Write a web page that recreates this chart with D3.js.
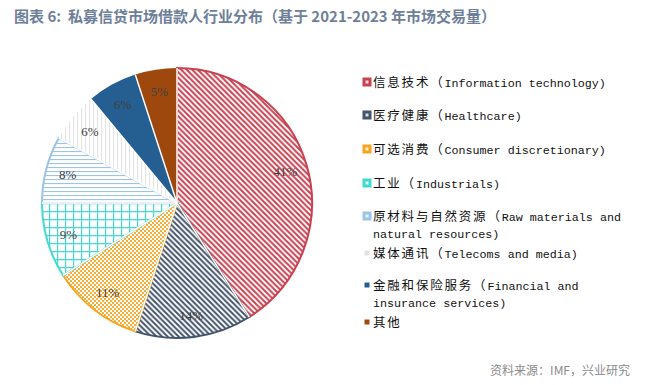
<!DOCTYPE html>
<html>
<head>
<meta charset="utf-8">
<script src="https://cdn.jsdelivr.net/npm/d3@7"></script>
<style>
  body { margin: 0; background: #fff; }
</style>
</head>
<body>
<svg id="chart" width="649" height="385"></svg>
<script>
// 数据
let sectors_cn = ["信息技术", "医疗健康", "可选消费", "工业", "原材料与自然资源", "媒体通讯", "金融和保险服务", "其他"];
let sectors_en = ["Information technology", "Healthcare", "Consumer discretionary", "Industrials", "Raw materials and natural resources", "Telecoms and media", "Financial and insurance services", ""];
let shares = [41, 14, 11, 9, 8, 6, 6, 5];
let colors = ["#c9404f", "#44546a", "#f5a51f", "#45d9cf", "#9dc3e6", "#e4e4e4", "#255e91", "#9e480e"];

let width = 649, height = 385;
let cx = 177, cy = 203, radius = 135;

let svg = d3.select("#chart");
let defs = svg.append("defs");

function make_pattern(id, size, color, draw) {
    let p = defs.append("pattern")
        .attr("id", id)
        .attr("patternUnits", "userSpaceOnUse")
        .attr("width", size)
        .attr("height", size);
    p.append("rect").attr("width", size).attr("height", size).attr("fill", "#fff");
    draw(p, color, size);
}

// 斜线
function stripes(p, color, s) {
    p.append("path")
        .attr("d", `M0,0 L${s},${s} M${-s},0 L${s},${2 * s} M0,${-s} L${2 * s},${s}`)
        .attr("stroke", color).attr("stroke-width", 2);
}
make_pattern("pat0", 5.5, colors[0], stripes);
make_pattern("pat1", 5.5, colors[1], stripes);
// 小菱形格
make_pattern("pat2", 4, colors[2], (p, c, s) => {
    p.append("path")
        .attr("d", `M0,0 L${s},${s} M${s},0 L0,${s}`)
        .attr("stroke", c).attr("stroke-width", 0.9);
});
// 方格
make_pattern("pat3", 8, colors[3], (p, c, s) => {
    p.append("path")
        .attr("d", `M0,0.5 H${s} M0.5,0 V${s}`)
        .attr("stroke", c).attr("stroke-width", 1.4);
});
// 横线
make_pattern("pat4", 4, colors[4], (p, c, s) => {
    p.append("path")
        .attr("d", `M0,0.5 H${s}`)
        .attr("stroke", c).attr("stroke-width", 1.2);
});
// 竖线
make_pattern("pat5", 4, colors[5], (p, c, s) => {
    p.append("path")
        .attr("d", `M0.5,0 V${s}`)
        .attr("stroke", c).attr("stroke-width", 1.2);
});

let fills = colors.map((c, i) => i < 6 ? `url(#pat${i})` : c);

// 标题
svg.append("text")
    .attr("x", 14).attr("y", 22)
    .attr("xml:space", "preserve")
    .style("white-space", "pre")
    .attr("font-family", "Noto Sans CJK SC")
    .attr("font-weight", "bold")
    .attr("font-size", 15)
    .attr("fill", "#6e7f99")
    .text("图表 6:  私募信贷市场借款人行业分布（基于 2021-2023 年市场交易量）");

// 饼图
let pie = d3.pie().sort(null).value(d => d)(shares);
let arc = d3.arc().innerRadius(0).outerRadius(radius);
let label_arc = d3.arc().innerRadius(113).outerRadius(113);

let g = svg.append("g").attr("transform", `translate(${cx},${cy})`);

g.selectAll("path.slice")
    .data(pie)
    .join("path")
    .attr("class", "slice")
    .attr("d", arc)
    .attr("fill", (d, i) => fills[i])
    .attr("stroke", (d, i) => i < 5 ? colors[i] : "none")
    .attr("stroke-width", 2);

// 白色分隔线
g.selectAll("line.sep")
    .data(pie)
    .join("line")
    .attr("class", "sep")
    .attr("x1", 0).attr("y1", 0)
    .attr("x2", d => radius * Math.sin(d.startAngle))
    .attr("y2", d => -radius * Math.cos(d.startAngle))
    .attr("stroke", "#fff")
    .attr("stroke-width", 1.5);

g.selectAll("text.lab")
    .data(pie)
    .join("text")
    .attr("class", "lab")
    .attr("transform", d => `translate(${label_arc.centroid(d)})`)
    .attr("text-anchor", "middle")
    .attr("dy", "0.35em")
    .attr("font-family", "Liberation Serif")
    .attr("font-size", 13)
    .attr("fill", "#404040")
    .text(d => d.data + "%");

// 图例
let legend_rows = [
    {i: 0, y: 82, lines: [sectors_en[0] + ")"]},
    {i: 1, y: 115, lines: [sectors_en[1] + ")"]},
    {i: 2, y: 149, lines: [sectors_en[2] + ")"]},
    {i: 3, y: 183, lines: [sectors_en[3] + ")"]},
    {i: 4, y: 216, lines: ["Raw materials and", "natural resources)"]},
    {i: 5, y: 253, lines: [sectors_en[5] + ")"]},
    {i: 6, y: 285, lines: ["Financial and", "insurance services)"]},
    {i: 7, y: 322, lines: []}
];

let lg = svg.append("g");
legend_rows.forEach(r => {
    let sz = r.i >= 5 ? 5 : 8;
    lg.append("rect")
        .attr("x", 367 - sz / 2).attr("y", r.y - sz / 2)
        .attr("width", sz).attr("height", sz)
        .attr("fill", colors[r.i])
        .attr("stroke", r.i < 5 ? colors[r.i] : "none")
        .attr("stroke-width", 1);
    if (r.i < 5) {
        lg.append("rect")
            .attr("x", 367 - 1.5).attr("y", r.y - 1.5)
            .attr("width", 3).attr("height", 3)
            .attr("fill", "#fff").attr("opacity", 0.8);
    }
    let t = lg.append("text")
        .attr("x", 373).attr("y", r.y + 4.5)
        .attr("fill", "#111");
    t.append("tspan")
        .attr("font-family", "Noto Sans CJK SC")
        .attr("font-size", 12.5)
        .attr("letter-spacing", 1.8)
        .text(sectors_cn[r.i] + (r.lines.length ? "（" : ""));
    if (r.lines.length) {
        t.append("tspan")
            .attr("font-family", "Liberation Mono")
            .attr("font-size", 11.7)
            .text(r.lines[0]);
    }
    if (r.lines.length > 1) {
        lg.append("text")
            .attr("x", 373).attr("y", r.y + 22)
            .attr("font-family", "Liberation Mono")
            .attr("font-size", 11.7)
            .attr("fill", "#111")
            .text(r.lines[1]);
    }
});

// 资料来源
svg.append("text")
    .attr("x", 630).attr("y", 375)
    .attr("text-anchor", "end")
    .attr("font-family", "Noto Sans CJK SC")
    .attr("font-size", 12)
    .attr("fill", "#8c8c8c")
    .text("资料来源：IMF，兴业研究");
</script>
</body>
</html>
